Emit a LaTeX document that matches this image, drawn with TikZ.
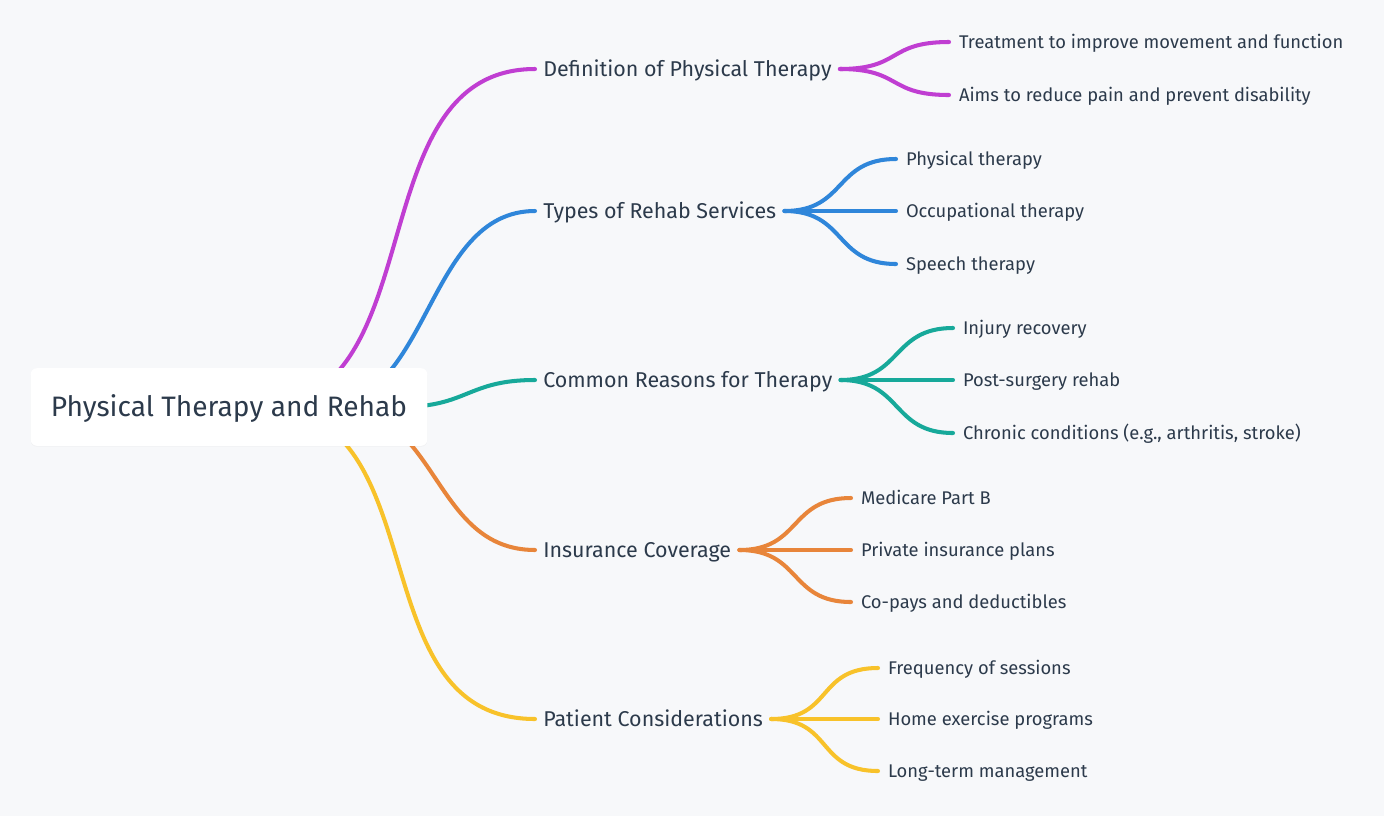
\documentclass[tikz,border=0pt]{standalone}
\usepackage{fontspec}
\setmainfont{Fira Sans}
\usetikzlibrary{shadows}

\definecolor{bgcol}{HTML}{F7F8FA}
\definecolor{inkcol}{HTML}{2C3A4B}
\definecolor{mmpurple}{HTML}{C03ED2}
\definecolor{mmblue}{HTML}{2F86DA}
\definecolor{mmteal}{HTML}{17A99A}
\definecolor{mmorange}{HTML}{E8853A}
\definecolor{mmyellow}{HTML}{F8C22A}

\begin{document}
\begin{tikzpicture}[x=0.02cm,y=-0.02cm,
  link/.style={line width=2.3pt,line cap=round},
  rootbox/.style={fill=white,rounded corners=3.5pt,minimum width=225.7pt,minimum height=44.2pt,
    text height=11pt,text depth=0pt,text=inkcol,font=\fontsize{16}{18}\selectfont,
    drop shadow={shadow xshift=0pt,shadow yshift=-0.5pt,opacity=0.06}},
  topic/.style={anchor=west,inner xsep=4.5pt,inner ysep=0pt,text height=8.4pt,text depth=0pt,
    text=inkcol,font=\fontsize{12.2}{14}\selectfont},
  leaf/.style={anchor=west,inner xsep=5.5pt,inner ysep=0pt,text height=7.2pt,text depth=0pt,
    text=inkcol,font=\fontsize{10.45}{12.5}\selectfont}]

\fill[bgcol] (0,0) rectangle (1384,816);
\useasboundingbox (0,0) rectangle (1384,816);

% main topics
\node[topic] (def) at (535,69) {Definition of Physical Therapy};
\node[topic] (types) at (535,211) {Types of Rehab Services};
\node[topic] (reasons) at (535,380) {Common Reasons for Therapy};
\node[topic] (cover) at (535,550) {Insurance Coverage};
\node[topic] (patient) at (535,719) {Patient Considerations};

% where the links leave the centre box (hidden under it)
\coordinate (root-a) at (257,407);
\coordinate (root-b) at (321,407);
\coordinate (root-c) at (400,407);
\coordinate (root-d) at (336,407);
\coordinate (root-e) at (261,407);

\draw[link,mmpurple] (root-a) .. controls +(180,0) and +(-180,0) .. (def.west);
\draw[link,mmblue] (root-b) .. controls +(110,0) and +(-110,0) .. (types.west);
\draw[link,mmteal] (root-c) .. controls +(68,0) and +(-68,0) .. (reasons.west);
\draw[link,mmorange] (root-d) .. controls +(103,0) and +(-103,0) .. (cover.west);
\draw[link,mmyellow] (root-e) .. controls +(180,0) and +(-180,0) .. (patient.west);

% sub topics
\foreach \i/\yy/\lbl in {1/42/{Treatment to improve movement and function},
                         2/95/{Aims to reduce pain and prevent disability}} {
  \node[leaf] (def\i) at (949,\yy) {\lbl};
  \draw[link,mmpurple] (def.east) .. controls +(62,0) and +(-62,0) .. (def\i.west);
}
\foreach \i/\yy/\lbl in {1/159/{Physical therapy},2/211/{Occupational therapy},
                         3/264/{Speech therapy}} {
  \node[leaf] (types\i) at (896,\yy) {\lbl};
  \draw[link,mmblue] (types.east) .. controls +(62,0) and +(-62,0) .. (types\i.west);
}
\foreach \i/\yy/\lbl in {1/328/{Injury recovery},2/380/{Post-surgery rehab},
                         3/433/{Chronic conditions (e.g., arthritis, stroke)}} {
  \node[leaf] (reasons\i) at (953,\yy) {\lbl};
  \draw[link,mmteal] (reasons.east) .. controls +(62,0) and +(-62,0) .. (reasons\i.west);
}
\foreach \i/\yy/\lbl in {1/498/{Medicare Part B},2/550/{Private insurance plans},
                         3/602/{Co-pays and deductibles}} {
  \node[leaf] (cover\i) at (851,\yy) {\lbl};
  \draw[link,mmorange] (cover.east) .. controls +(62,0) and +(-62,0) .. (cover\i.west);
}
\foreach \i/\yy/\lbl in {1/668/{Frequency of sessions},2/719/{Home exercise programs},
                         3/771/{Long-term management}} {
  \node[leaf] (patient\i) at (878,\yy) {\lbl};
  \draw[link,mmyellow] (patient.east) .. controls +(62,0) and +(-62,0) .. (patient\i.west);
}

\node[rootbox] (root) at (229,407) {Physical Therapy and Rehab};
\end{tikzpicture}
\end{document}
